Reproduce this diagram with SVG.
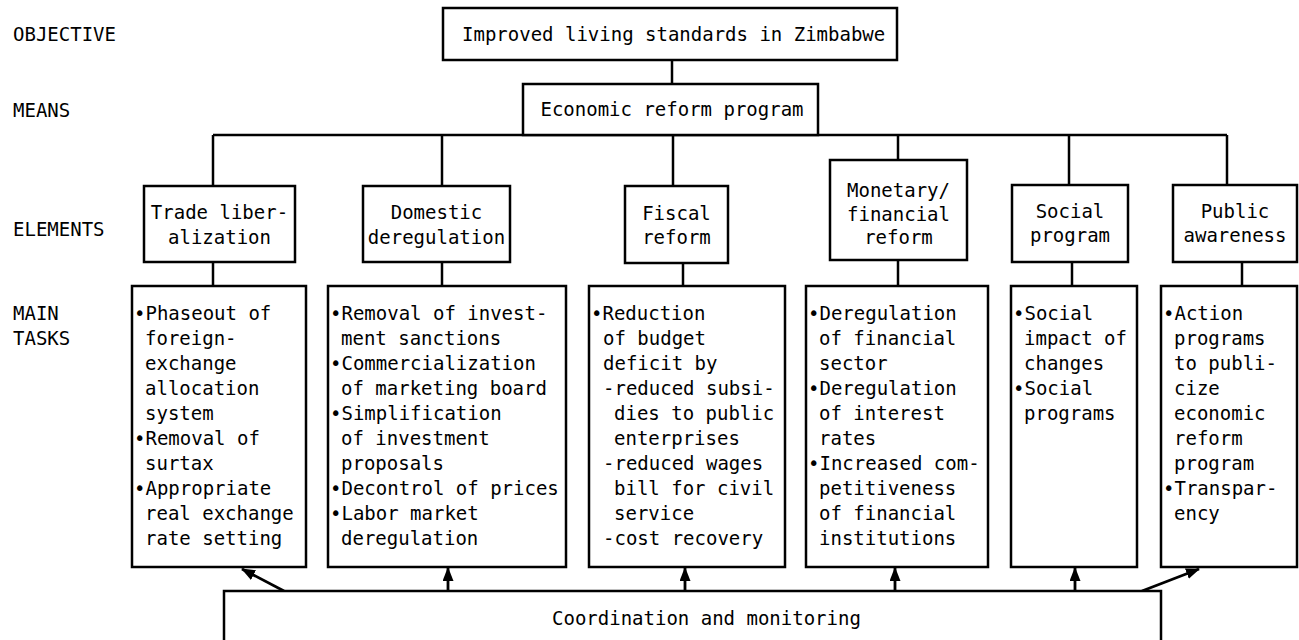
<svg xmlns="http://www.w3.org/2000/svg" width="1299" height="640" viewBox="0 0 1299 640">
<style>
text{font-family:"DejaVu Sans Mono","Liberation Mono",monospace;font-size:19px;fill:#000}
.c{text-anchor:middle}
.box{fill:#fff;stroke:#000;stroke-width:2.5}
.ln{fill:none;stroke:#000;stroke-width:2.5}
.ar{fill:none;stroke:#000;stroke-width:2.8}
</style>
<defs>
<marker id="ah" markerUnits="userSpaceOnUse" markerWidth="14" markerHeight="11" refX="13" refY="5.5" orient="auto">
<path d="M0,0 L14,5.5 L0,11 z" fill="#000"/>
</marker>
</defs>
<rect width="1299" height="640" fill="#fff"/>

<g id="labels">
<text x="13" y="41">OBJECTIVE</text>
<text x="13" y="117">MEANS</text>
<text x="13" y="236">ELEMENTS</text>
<text x="13" y="320">MAIN</text>
<text x="13" y="345">TASKS</text>
</g>

<g id="connectors">
<line class="ln" x1="672" y1="60" x2="672" y2="84"/>
<line class="ln" x1="213" y1="135" x2="1227" y2="135"/>
<line class="ln" x1="213" y1="135" x2="213" y2="186"/>
<line class="ln" x1="442" y1="135" x2="442" y2="186"/>
<line class="ln" x1="673" y1="135" x2="673" y2="186"/>
<line class="ln" x1="898" y1="135" x2="898" y2="160"/>
<line class="ln" x1="1069" y1="135" x2="1069" y2="185"/>
<line class="ln" x1="1227" y1="135" x2="1227" y2="185"/>
<line class="ln" x1="213" y1="262" x2="213" y2="286"/>
<line class="ln" x1="442" y1="262" x2="442" y2="286"/>
<line class="ln" x1="683" y1="263" x2="683" y2="286"/>
<line class="ln" x1="898" y1="260" x2="898" y2="286"/>
<line class="ln" x1="1072" y1="262" x2="1072" y2="286"/>
<line class="ln" x1="1242" y1="262" x2="1242" y2="286"/>
<line class="ar" x1="284" y1="591" x2="242" y2="569" marker-end="url(#ah)"/>
<line class="ar" x1="448" y1="591" x2="448" y2="568" marker-end="url(#ah)"/>
<line class="ar" x1="685" y1="591" x2="685" y2="568" marker-end="url(#ah)"/>
<line class="ar" x1="895" y1="591" x2="895" y2="568" marker-end="url(#ah)"/>
<line class="ar" x1="1075" y1="591" x2="1075" y2="568" marker-end="url(#ah)"/>
<line class="ar" x1="1142" y1="591" x2="1199" y2="569" marker-end="url(#ah)"/>
</g>

<g id="objective">
<rect class="box" x="443" y="8" width="454" height="52"/>
<text x="462" y="41">Improved living standards in Zimbabwe</text>
</g>

<g id="means">
<rect class="box" x="523" y="84" width="295" height="51"/>
<text class="c" x="672" y="116">Economic reform program</text>
</g>

<g id="el-trade">
<rect class="box" x="144" y="186" width="151" height="76"/>
<text class="c" x="219.5" y="219">Trade liber-</text>
<text class="c" x="219.5" y="244">alization</text>
</g>
<g id="el-domestic">
<rect class="box" x="363" y="186" width="147" height="76"/>
<text class="c" x="436.5" y="219">Domestic</text>
<text class="c" x="436.5" y="244">deregulation</text>
</g>
<g id="el-fiscal">
<rect class="box" x="625" y="186" width="103" height="77"/>
<text class="c" x="676.5" y="220">Fiscal</text>
<text class="c" x="676.5" y="244">reform</text>
</g>
<g id="el-monetary">
<rect class="box" x="830" y="160" width="137" height="100"/>
<text class="c" x="898.5" y="197">Monetary/</text>
<text class="c" x="898.5" y="221">financial</text>
<text class="c" x="898.5" y="244">reform</text>
</g>
<g id="el-social">
<rect class="box" x="1012" y="185" width="116" height="77"/>
<text class="c" x="1070" y="218">Social</text>
<text class="c" x="1070" y="242">program</text>
</g>
<g id="el-public">
<rect class="box" x="1173" y="185" width="124" height="77"/>
<text class="c" x="1235" y="218">Public</text>
<text class="c" x="1235" y="242">awareness</text>
</g>

<g id="task-trade">
<rect class="box" x="132" y="286" width="174" height="281"/>
<text x="134" y="320">•Phaseout of</text>
<text x="145" y="345">foreign-</text>
<text x="145" y="370">exchange</text>
<text x="145" y="395">allocation</text>
<text x="145" y="420">system</text>
<text x="134" y="445">•Removal of</text>
<text x="145" y="470">surtax</text>
<text x="134" y="495">•Appropriate</text>
<text x="145" y="520">real exchange</text>
<text x="145" y="545">rate setting</text>
</g>

<g id="task-domestic">
<rect class="box" x="328" y="286" width="238" height="281"/>
<text x="330" y="320">•Removal of invest-</text>
<text x="341" y="345">ment sanctions</text>
<text x="330" y="370">•Commercialization</text>
<text x="341" y="395">of marketing board</text>
<text x="330" y="420">•Simplification</text>
<text x="341" y="445">of investment</text>
<text x="341" y="470">proposals</text>
<text x="330" y="495">•Decontrol of prices</text>
<text x="330" y="520">•Labor market</text>
<text x="341" y="545">deregulation</text>
</g>

<g id="task-fiscal">
<rect class="box" x="589" y="286" width="196" height="281"/>
<text x="591" y="320">•Reduction</text>
<text x="603" y="345">of budget</text>
<text x="603" y="370">deficit by</text>
<text x="603" y="395">-reduced subsi-</text>
<text x="614" y="420">dies to public</text>
<text x="614" y="445">enterprises</text>
<text x="603" y="470">-reduced wages</text>
<text x="614" y="495">bill for civil</text>
<text x="614" y="520">service</text>
<text x="603" y="545">-cost recovery</text>
</g>

<g id="task-monetary">
<rect class="box" x="806" y="286" width="182" height="281"/>
<text x="808" y="320">•Deregulation</text>
<text x="819" y="345">of financial</text>
<text x="819" y="370">sector</text>
<text x="808" y="395">•Deregulation</text>
<text x="819" y="420">of interest</text>
<text x="819" y="445">rates</text>
<text x="808" y="470">•Increased com-</text>
<text x="819" y="495">petitiveness</text>
<text x="819" y="520">of financial</text>
<text x="819" y="545">institutions</text>
</g>

<g id="task-social">
<rect class="box" x="1011" y="286" width="126" height="281"/>
<text x="1013" y="320">•Social</text>
<text x="1024" y="345">impact of</text>
<text x="1024" y="370">changes</text>
<text x="1013" y="395">•Social</text>
<text x="1024" y="420">programs</text>
</g>

<g id="task-public">
<rect class="box" x="1161" y="286" width="136" height="281"/>
<text x="1163" y="320">•Action</text>
<text x="1174" y="345">programs</text>
<text x="1174" y="370">to publi-</text>
<text x="1174" y="395">cize</text>
<text x="1174" y="420">economic</text>
<text x="1174" y="445">reform</text>
<text x="1174" y="470">program</text>
<text x="1163" y="495">•Transpar-</text>
<text x="1174" y="520">ency</text>
</g>

<g id="coordination">
<rect class="box" x="224" y="591" width="937" height="60"/>
<text x="552" y="625">Coordination and monitoring</text>
</g>
</svg>
